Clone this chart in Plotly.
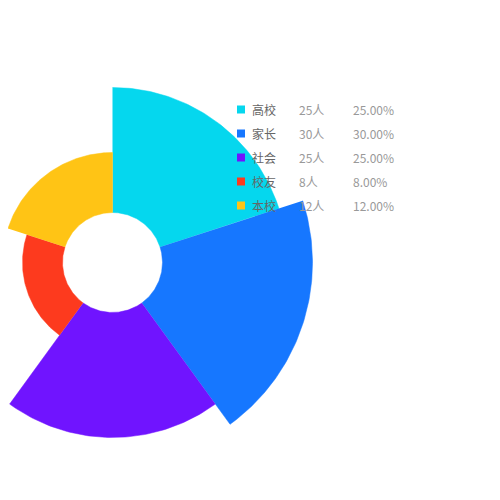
import numpy as np
import plotly.graph_objects as go

# data
NAMES = ["高校", "家长", "社会", "校友", "本校"]
VALUES = [25, 30, 25, 8, 12]
UNIT = "人"
COLORS = ["#05d7ee", "#1677ff", "#7014ff", "#fd3a1e", "#ffc415"]

# layout (pixels inside the figure, y down); page adds an 8px body margin
CX, CY = 104.5, 254.5
R_INNER, R_OUTER = 50, 200
CARD_BG = "#ffffff"
NAME_INK, NUM_INK = "#666666", "#999999"
FONT = "Noto Sans CJK SC, Noto Sans, sans-serif"

total = sum(VALUES)
vmax = max(VALUES)
step = 360 / len(VALUES)

fig = go.Figure()

# rose sectors, equal angles, radius by value
for i, (name, v, color) in enumerate(zip(NAMES, VALUES, COLORS)):
    a0 = 90 - i * step
    a1 = a0 - step
    t = np.radians(np.linspace(a0, a1, 80))
    r = R_INNER + v / vmax * (R_OUTER - R_INNER)
    xs = np.concatenate([CX + r * np.cos(t), CX + R_INNER * np.cos(t[::-1])])
    ys = np.concatenate([CY - r * np.sin(t), CY - R_INNER * np.sin(t[::-1])])
    fig.add_trace(
        go.Scatter(
            x=xs,
            y=ys,
            mode="lines",
            fill="toself",
            fillcolor=color,
            line=dict(color=color, width=0.5),
            name=name,
            hovertemplate=f"{name}: {v}{UNIT} ({v / total * 100:.2f}%)<extra></extra>",
        )
    )

# legend drawn by hand: icon, name, value, percent
LEG_X, LEG_Y, LEG_GAP = 233, 101.5, 24
leg_y = [LEG_Y + i * LEG_GAP for i in range(len(NAMES))]
fig.add_trace(
    go.Scatter(
        x=[LEG_X] * len(NAMES),
        y=leg_y,
        mode="markers",
        marker=dict(symbol="square", size=8, color=COLORS),
        hoverinfo="skip",
    )
)
for name, v, y in zip(NAMES, VALUES, leg_y):
    for x, text, ink in (
        (242, name, NAME_INK),
        (289, f"{v}{UNIT}", NUM_INK),
        (343, f"{v / total * 100:.2f}%", NUM_INK),
    ):
        fig.add_annotation(
            x=x, y=y, text=text, showarrow=False,
            xanchor="left", yanchor="middle",
            font=dict(size=12, color=ink, family=FONT),
        )

fig.update_layout(
    width=500,
    height=500,
    margin=dict(l=0, r=0, t=0, b=0),
    paper_bgcolor=CARD_BG,
    plot_bgcolor=CARD_BG,
    showlegend=False,
    font=dict(family=FONT),
)
fig.update_xaxes(range=[0, 500], visible=False, fixedrange=True)
fig.update_yaxes(range=[500, 0], visible=False, fixedrange=True)

fig.write_html("out.html")
